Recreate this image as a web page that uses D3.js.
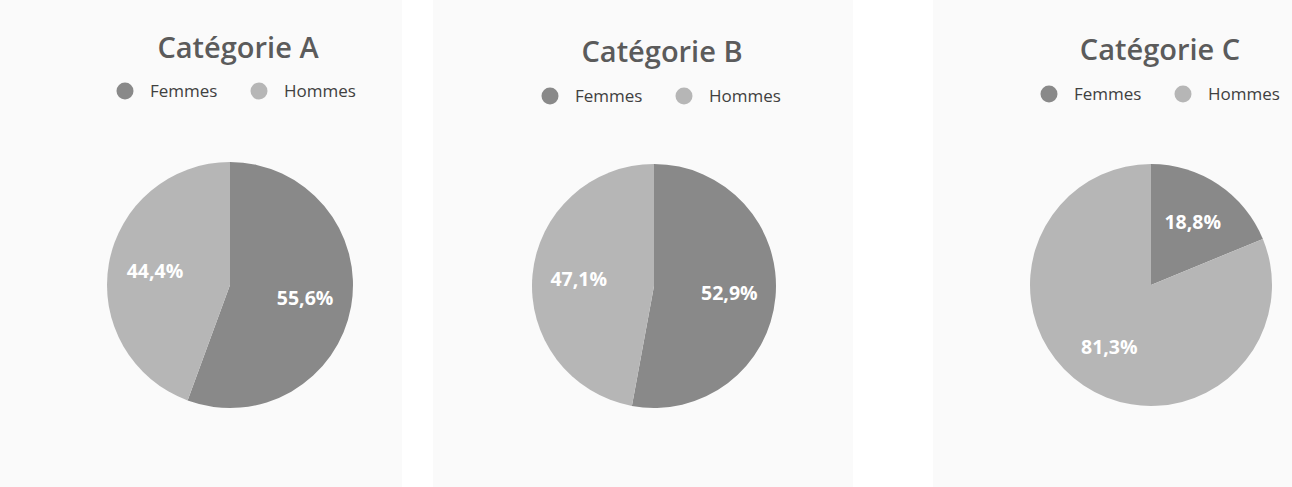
<!DOCTYPE html>
<html>
<head>
<meta charset="utf-8">
<script src="https://cdn.jsdelivr.net/npm/d3@7"></script>
<style>
  html, body { margin: 0; padding: 0; background: #ffffff; }
  svg { display: block; }
</style>
</head>
<body>
<svg id="chart" width="1292" height="487"></svg>
<script>
// ---- Data ----
const categories = ["Catégorie A", "Catégorie B", "Catégorie C"];
const seriesNames = ["Femmes", "Hommes"];
const femmes = [55.6, 52.9, 18.8];
const hommes = [44.4, 47.1, 81.3];
const labelTexts = [["55,6%", "44,4%"], ["52,9%", "47,1%"], ["18,8%", "81,3%"]];

// ---- Layout ----
const panels = [
  { x0: 0,   x1: 402,  cx: 230,  cy: 285, r: 123, titleX: 238,  titleY: 58, legendX: 125,  legendY: 91 },
  { x0: 433, x1: 853,  cx: 654,  cy: 286, r: 122, titleX: 662,  titleY: 62, legendX: 550,  legendY: 96 },
  { x0: 933, x1: 1292, cx: 1151, cy: 285, r: 121, titleX: 1160, titleY: 60, legendX: 1049, legendY: 94 }
];
const colors = d3.scaleOrdinal().domain(seriesNames).range(["#898989", "#b6b6b6"]);

const svg = d3.select("#chart");

panels.forEach((p, i) => {
  svg.append("rect")
    .attr("x", p.x0).attr("y", 0)
    .attr("width", p.x1 - p.x0).attr("height", 487)
    .attr("fill", "#fafafa");

  const g = svg.append("g");

  g.append("text")
    .attr("x", p.titleX).attr("y", p.titleY)
    .attr("text-anchor", "middle")
    .attr("font-family", "'Open Sans', sans-serif")
    .attr("font-weight", 600)
    .attr("font-size", 29)
    .attr("fill", "#5b5b5b")
    .text(categories[i]);

  // legend
  const lg = g.append("g").attr("transform", `translate(${p.legendX},${p.legendY})`);
  const legendOffsets = [0, 134];
  seriesNames.forEach((s, j) => {
    lg.append("circle")
      .attr("cx", legendOffsets[j]).attr("cy", 0).attr("r", 8.5)
      .attr("fill", colors(s));
    lg.append("text")
      .attr("x", legendOffsets[j] + 25).attr("y", 6)
      .attr("font-family", "'Open Sans', sans-serif")
      .attr("font-size", 17)
      .attr("fill", "#404040")
      .text(s);
  });

  // pie
  const values = [femmes[i], hommes[i]];
  const pie = d3.pie().sort(null).value(d => d.v);
  const arcs = pie(values.map((v, j) => ({ name: seriesNames[j], v, label: labelTexts[i][j] })));
  const arc = d3.arc().innerRadius(0).outerRadius(p.r);
  const labelArc = d3.arc().innerRadius(p.r * 0.62).outerRadius(p.r * 0.62);

  const pg = g.append("g").attr("transform", `translate(${p.cx},${p.cy})`);
  pg.selectAll("path").data(arcs).join("path")
    .attr("d", arc)
    .attr("fill", d => colors(d.data.name));

  pg.selectAll("text").data(arcs).join("text")
    .attr("transform", d => `translate(${labelArc.centroid(d)})`)
    .attr("text-anchor", "middle")
    .attr("dy", "0.35em")
    .attr("font-family", "'Open Sans', sans-serif")
    .attr("font-weight", 700)
    .attr("font-size", 19.5)
    .attr("fill", "#ffffff")
    .text(d => d.data.label);
});
</script>
</body>
</html>
